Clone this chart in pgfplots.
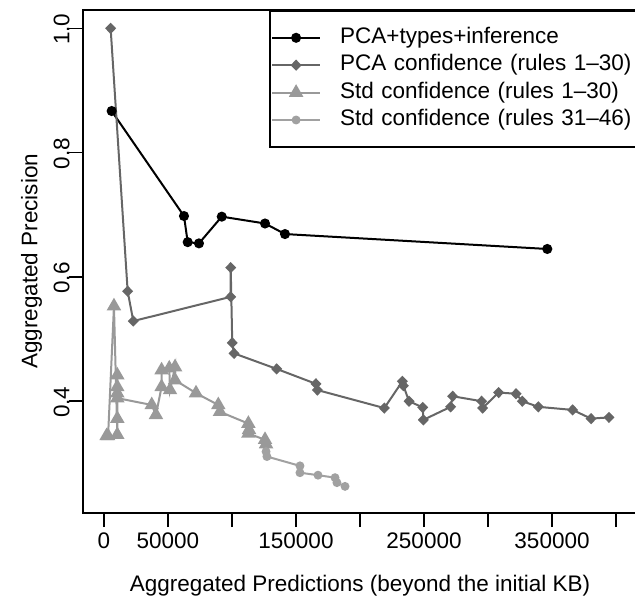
\documentclass[border=0pt]{standalone}
\usepackage{fontspec}
\setmainfont{Liberation Sans}
\usepackage{pgfplots}
\pgfplotsset{compat=1.18}
\definecolor{pcagray}{gray}{0.4}
\definecolor{stdgray}{gray}{0.6}
\definecolor{stdgrayb}{gray}{0.63}
\newcommand{\rfont}{\fontsize{11.25}{13.5}\selectfont}

\begin{document}
\begin{tikzpicture}
\begin{axis}[
    scale only axis, width=276.5pt, height=251.7pt,
    xmin=-16000, xmax=416000, ymin=0.22, ymax=1.03,
    axis line style={line width=1pt},
    scaled x ticks=false, scaled y ticks=false,
    xtick={0,50000,100000,150000,200000,250000,300000,350000,400000},
    xticklabels={0,50000,,150000,,250000,,350000,},
    ytick={0.4,0.6,0.8,1.0},
    yticklabels={0.4,0.6,0.8,1.0},
    xtick pos=lower, ytick pos=left,
    tick align=outside, major tick length=7pt,
    tick style={line width=0.8pt, black},
    tick label style={font=\rfont},
    xticklabel style={anchor=base, yshift=-10.5pt},
    yticklabel style={rotate=90, anchor=base, xshift=-0.5pt},
    every axis x label/.style={at={(axis description cs:0.5,0)}, anchor=base, yshift=-39pt, font=\rfont},
    every axis y label/.style={at={(axis description cs:-0.0835,0.5)}, rotate=90, anchor=base, font=\rfont},
    xlabel={Aggregated Predictions (beyond the initial KB)},
    ylabel={Aggregated Precision},
    legend style={at={(rel axis cs:1,1)}, anchor=north east, draw=black, line width=1pt,
        inner xsep=0.5pt, inner ysep=6.8pt, font=\rfont, row sep=0.2pt,
        nodes={inner sep=0pt, text height=9.5pt, text depth=4pt},
        /tikz/every odd column/.append style={column sep=9.5pt},
        /tikz/every even column/.append style={text width=147.2pt}},
    legend cell align=left,
    legend image code/.code={\draw[mark repeat=2,mark phase=2] plot coordinates {(0pt,0pt) (12pt,0pt) (24pt,0pt)};},
]
\addplot[black, line width=1pt, mark=*, mark size=2pt] coordinates {
(6000,0.867) (62500,0.698) (65400,0.656) (74200,0.654) (92000,0.697)
(125800,0.686) (141400,0.669) (346300,0.645)
};
\addlegendentry{PCA+types+inference}
\addplot[pcagray, line width=1pt, mark=diamond*, mark size=2.1pt, mark options={xscale=1.3}] coordinates {
(5200,1.0) (18500,0.577) (22900,0.529) (99000,0.568) (99000,0.615)
(100200,0.494) (101600,0.477) (134900,0.452) (165600,0.428) (166700,0.418)
(219000,0.389) (233100,0.432) (233900,0.425) (238300,0.400) (249000,0.390)
(249500,0.370) (270800,0.391) (272400,0.408) (295000,0.400) (295800,0.389)
(308300,0.414) (321900,0.412) (326800,0.400) (339300,0.391) (366100,0.386)
(380500,0.372) (394500,0.374)
};
\addlegendentry{PCA confidence (rules 1–30)}
\addplot[stdgray, line width=1pt, mark=triangle*, mark size=3.2pt] coordinates {
(2000,0.344) (3200,0.344) (7800,0.553) (10400,0.346) (10400,0.372)
(10400,0.442) (10400,0.423) (10400,0.413) (10400,0.405) (37300,0.394)
(40600,0.378) (45000,0.423) (45000,0.450) (51000,0.453) (51600,0.418)
(55500,0.455) (55500,0.434) (71900,0.413) (89300,0.394) (90600,0.383)
(112800,0.364) (113300,0.354) (112800,0.348) (125800,0.338) (126600,0.331)
};
\addlegendentry{Std confidence (rules 1–30)}
\addplot[stdgrayb, line width=1pt, mark=*, mark size=1.7pt] coordinates {
(126600,0.319) (127300,0.311) (153100,0.296) (153100,0.285) (167200,0.281)
(180500,0.277) (182000,0.269) (188300,0.263)
};
\addlegendentry{Std confidence (rules 31–46)}
\end{axis}
\pgfresetboundingbox
\path[use as bounding box] (current axis.south west) ++(-41.75pt,-41.95pt) rectangle ++(317.5pt,298.5pt);
\end{tikzpicture}
\end{document}
